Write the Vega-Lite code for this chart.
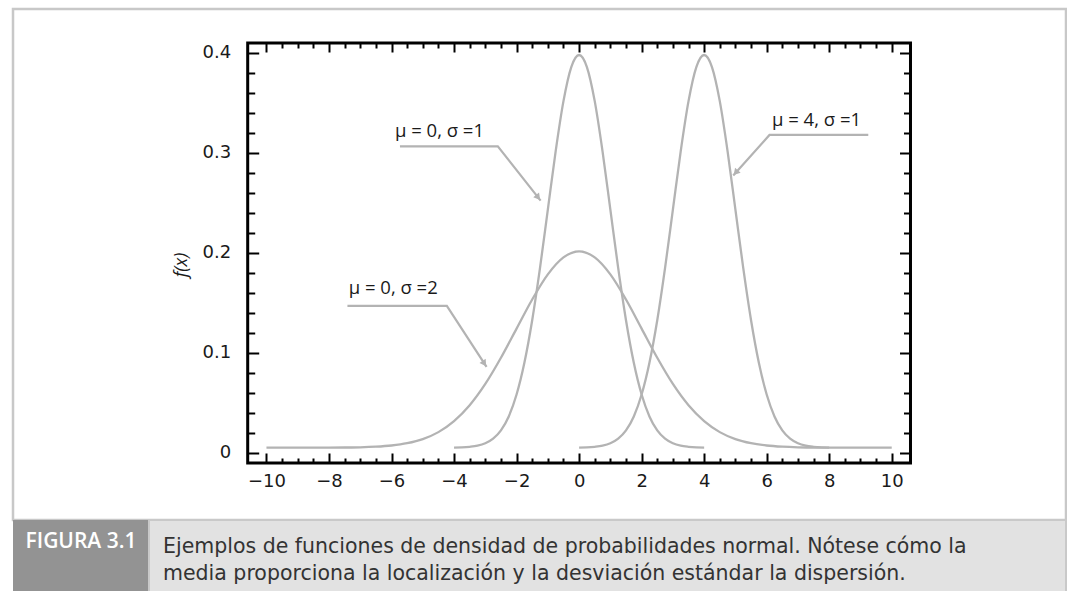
{
  "$schema": "https://vega.github.io/schema/vega-lite/v6.json",
  "background": "white",
  "padding": {"left": 11, "top": 7, "right": 0, "bottom": 0},
  "bounds": "flush",
  "spacing": 0,
  "config": {"font": "Open Sans", "view": {"stroke": null}},
  "datasets": {
    "curves": [
      {"curve": "m0s1", "x": -4, "y": 0.0051}, {"curve": "m0s1", "x": -3.75, "y": 0.0053}, {"curve": "m0s1", "x": -3.5, "y": 0.0059}, {"curve": "m0s1", "x": -3.25, "y": 0.007}, {"curve": "m0s1", "x": -3, "y": 0.0094}, {"curve": "m0s1", "x": -2.75, "y": 0.014}, {"curve": "m0s1", "x": -2.5, "y": 0.0223}, {"curve": "m0s1", "x": -2.25, "y": 0.0363}, {"curve": "m0s1", "x": -2, "y": 0.0582}, {"curve": "m0s1", "x": -1.75, "y": 0.09}, {"curve": "m0s1", "x": -1.5, "y": 0.1326}, {"curve": "m0s1", "x": -1.25, "y": 0.1849}, {"curve": "m0s1", "x": -1, "y": 0.2433}, {"curve": "m0s1", "x": -0.75, "y": 0.3016}, {"curve": "m0s1", "x": -0.5, "y": 0.3518}, {"curve": "m0s1", "x": -0.25, "y": 0.3859}, {"curve": "m0s1", "x": 0, "y": 0.398}, {"curve": "m0s1", "x": 0.25, "y": 0.3859}, {"curve": "m0s1", "x": 0.5, "y": 0.3518}, {"curve": "m0s1", "x": 0.75, "y": 0.3016}, {"curve": "m0s1", "x": 1, "y": 0.2433}, {"curve": "m0s1", "x": 1.25, "y": 0.1849}, {"curve": "m0s1", "x": 1.5, "y": 0.1326}, {"curve": "m0s1", "x": 1.75, "y": 0.09}, {"curve": "m0s1", "x": 2, "y": 0.0582}, {"curve": "m0s1", "x": 2.25, "y": 0.0363}, {"curve": "m0s1", "x": 2.5, "y": 0.0223}, {"curve": "m0s1", "x": 2.75, "y": 0.014}, {"curve": "m0s1", "x": 3, "y": 0.0094}, {"curve": "m0s1", "x": 3.25, "y": 0.007}, {"curve": "m0s1", "x": 3.5, "y": 0.0059}, {"curve": "m0s1", "x": 3.75, "y": 0.0053}, {"curve": "m0s1", "x": 4, "y": 0.0051},
      {"curve": "m4s1", "x": 0, "y": 0.0051}, {"curve": "m4s1", "x": 0.25, "y": 0.0053}, {"curve": "m4s1", "x": 0.5, "y": 0.0059}, {"curve": "m4s1", "x": 0.75, "y": 0.007}, {"curve": "m4s1", "x": 1, "y": 0.0094}, {"curve": "m4s1", "x": 1.25, "y": 0.014}, {"curve": "m4s1", "x": 1.5, "y": 0.0223}, {"curve": "m4s1", "x": 1.75, "y": 0.0363}, {"curve": "m4s1", "x": 2, "y": 0.0582}, {"curve": "m4s1", "x": 2.25, "y": 0.09}, {"curve": "m4s1", "x": 2.5, "y": 0.1326}, {"curve": "m4s1", "x": 2.75, "y": 0.1849}, {"curve": "m4s1", "x": 3, "y": 0.2433}, {"curve": "m4s1", "x": 3.25, "y": 0.3016}, {"curve": "m4s1", "x": 3.5, "y": 0.3518}, {"curve": "m4s1", "x": 3.75, "y": 0.3859}, {"curve": "m4s1", "x": 4, "y": 0.398}, {"curve": "m4s1", "x": 4.25, "y": 0.3859}, {"curve": "m4s1", "x": 4.5, "y": 0.3518}, {"curve": "m4s1", "x": 4.75, "y": 0.3016}, {"curve": "m4s1", "x": 5, "y": 0.2433}, {"curve": "m4s1", "x": 5.25, "y": 0.1849}, {"curve": "m4s1", "x": 5.5, "y": 0.1326}, {"curve": "m4s1", "x": 5.75, "y": 0.09}, {"curve": "m4s1", "x": 6, "y": 0.0582}, {"curve": "m4s1", "x": 6.25, "y": 0.0363}, {"curve": "m4s1", "x": 6.5, "y": 0.0223}, {"curve": "m4s1", "x": 6.75, "y": 0.014}, {"curve": "m4s1", "x": 7, "y": 0.0094}, {"curve": "m4s1", "x": 7.25, "y": 0.007}, {"curve": "m4s1", "x": 7.5, "y": 0.0059}, {"curve": "m4s1", "x": 7.75, "y": 0.0053}, {"curve": "m4s1", "x": 8, "y": 0.0051},
      {"curve": "m0s2", "x": -10, "y": 0.005}, {"curve": "m0s2", "x": -9, "y": 0.005}, {"curve": "m0s2", "x": -8, "y": 0.0051}, {"curve": "m0s2", "x": -7.5, "y": 0.0052}, {"curve": "m0s2", "x": -7, "y": 0.0054}, {"curve": "m0s2", "x": -6.5, "y": 0.006}, {"curve": "m0s2", "x": -6, "y": 0.0072}, {"curve": "m0s2", "x": -5.5, "y": 0.0095}, {"curve": "m0s2", "x": -5, "y": 0.0136}, {"curve": "m0s2", "x": -4.5, "y": 0.0206}, {"curve": "m0s2", "x": -4, "y": 0.0316}, {"curve": "m0s2", "x": -3.5, "y": 0.0475}, {"curve": "m0s2", "x": -3, "y": 0.0688}, {"curve": "m0s2", "x": -2.5, "y": 0.095}, {"curve": "m0s2", "x": -2, "y": 0.1242}, {"curve": "m0s2", "x": -1.5, "y": 0.1533}, {"curve": "m0s2", "x": -1, "y": 0.1784}, {"curve": "m0s2", "x": -0.5, "y": 0.1954}, {"curve": "m0s2", "x": 0, "y": 0.2015}, {"curve": "m0s2", "x": 0.5, "y": 0.1954}, {"curve": "m0s2", "x": 1, "y": 0.1784}, {"curve": "m0s2", "x": 1.5, "y": 0.1533}, {"curve": "m0s2", "x": 2, "y": 0.1242}, {"curve": "m0s2", "x": 2.5, "y": 0.095}, {"curve": "m0s2", "x": 3, "y": 0.0688}, {"curve": "m0s2", "x": 3.5, "y": 0.0475}, {"curve": "m0s2", "x": 4, "y": 0.0316}, {"curve": "m0s2", "x": 4.5, "y": 0.0206}, {"curve": "m0s2", "x": 5, "y": 0.0136}, {"curve": "m0s2", "x": 5.5, "y": 0.0095}, {"curve": "m0s2", "x": 6, "y": 0.0072}, {"curve": "m0s2", "x": 6.5, "y": 0.006}, {"curve": "m0s2", "x": 7, "y": 0.0054}, {"curve": "m0s2", "x": 7.5, "y": 0.0052}, {"curve": "m0s2", "x": 8, "y": 0.0051}, {"curve": "m0s2", "x": 9, "y": 0.005}, {"curve": "m0s2", "x": 10, "y": 0.005}
    ],
    "leaders": [
      {"ann": "a", "step": 1, "x": -5.73, "y": 0.3066}, {"ann": "a", "step": 2, "x": -2.6, "y": 0.3066}, {"ann": "a", "step": 3, "x": -1.23, "y": 0.2522},
      {"ann": "b", "step": 1, "x": 9.25, "y": 0.318}, {"ann": "b", "step": 2, "x": 6.09, "y": 0.318}, {"ann": "b", "step": 3, "x": 4.93, "y": 0.2773},
      {"ann": "c", "step": 1, "x": -7.41, "y": 0.147}, {"ann": "c", "step": 2, "x": -4.23, "y": 0.147}, {"ann": "c", "step": 3, "x": -2.96, "y": 0.0859}
    ],
    "arrows": [
      {"ann": "a", "x": -1.31, "y": 0.2555},
      {"ann": "b", "x": 5.01, "y": 0.2803},
      {"ann": "c", "x": -3.03, "y": 0.0892}
    ],
    "labels": [
      {"ann": "a", "label": "μ = 0, σ =1", "x": -5.89, "y": 0.3223},
      {"ann": "b", "label": "μ = 4, σ =1", "x": 6.17, "y": 0.3334},
      {"ann": "c", "label": "μ = 0, σ =2", "x": -7.37, "y": 0.1653}
    ],
    "figura": [{"line": 1, "text": "FIGURA 3.1"}],
    "caption": [
      {"line": 1, "text": "Ejemplos de funciones de densidad de probabilidades normal. Nótese cómo la"},
      {"line": 2, "text": "media proporciona la localización y la desviación estándar la dispersión."}
    ]
  },
  "vconcat": [
    {
      "width": 1053,
      "height": 511,
      "view": {"fill": "white", "stroke": "#c8c8c8", "strokeWidth": 2.5},
      "resolve": {"axis": {"x": "independent", "y": "independent"}},
      "layer": [
        {
          "data": {"values": [{}]},
          "mark": {"type": "rect", "fill": null, "stroke": "black", "strokeWidth": 3},
          "encoding": {
            "x": {"datum": -10.6, "type": "quantitative", "scale": {"domain": [-18.107, 15.574], "nice": false, "zero": false}, "axis": null},
            "x2": {"datum": 10.6},
            "y": {"datum": -0.0103, "type": "quantitative", "scale": {"domain": [-0.06734, 0.44402], "nice": false, "zero": false}, "axis": null},
            "y2": {"datum": 0.41}
          }
        },
        {
          "data": {"name": "curves"},
          "mark": {"type": "line", "interpolate": "monotone", "color": "#b3b3b3", "strokeWidth": 2.3},
          "encoding": {
            "x": {"field": "x", "type": "quantitative", "scale": {"domain": [-18.107, 15.574], "nice": false, "zero": false},
              "axis": {"orient": "bottom", "offset": -57, "title": null, "domain": false, "grid": false,
                "values": [-10,-9.5,-9,-8.5,-8,-7.5,-7,-6.5,-6,-5.5,-5,-4.5,-4,-3.5,-3,-2.5,-2,-1.5,-1,-0.5,0,0.5,1,1.5,2,2.5,3,3.5,4,4.5,5,5.5,6,6.5,7,7.5,8,8.5,9,9.5,10],
                "tickSize": {"condition": {"test": "datum.value % 2 === 0", "value": -10}, "value": -5},
                "tickWidth": 2, "tickColor": "black",
                "labelExpr": "datum.value % 2 === 0 ? format(datum.value, 'd') : ''",
                "labelPadding": 19, "labelFontSize": 18, "labelFont": "DejaVu Sans", "labelColor": "#1a1a1a",
                "labelOverlap": false, "labelFlush": false}},
            "y": {"field": "y", "type": "quantitative", "scale": {"domain": [-0.06734, 0.44402], "nice": false, "zero": false},
              "axis": {"orient": "left", "offset": -234.7, "title": "f(x)", "titleFontStyle": "italic", "titleFontWeight": "normal", "titleFontSize": 18, "titleFont": "Open Sans", "titleColor": "#1a1a1a", "titlePadding": 12,
                "domain": false, "grid": false,
                "values": [0,0.02,0.04,0.06,0.08,0.1,0.12,0.14,0.16,0.18,0.2,0.22,0.24,0.26,0.28,0.3,0.32,0.34,0.36,0.38,0.4],
                "tickSize": {"condition": {"test": "abs(datum.value * 10 - round(datum.value * 10)) < 0.001", "value": -11}, "value": -7},
                "tickWidth": 2, "tickColor": "black",
                "labelExpr": "abs(datum.value * 10 - round(datum.value * 10)) < 0.001 ? format(datum.value, '.1~f') : ''",
                "labelPadding": 28, "labelFontSize": 18, "labelFont": "DejaVu Sans", "labelColor": "#1a1a1a",
                "labelOverlap": false, "labelFlush": false}},
            "detail": {"field": "curve", "type": "nominal"}
          }
        },
        {
          "data": {"name": "leaders"},
          "mark": {"type": "line", "color": "#b3b3b3", "strokeWidth": 2.2},
          "encoding": {
            "x": {"field": "x", "type": "quantitative", "scale": {"domain": [-18.107, 15.574], "nice": false, "zero": false},
              "axis": {"orient": "top", "offset": -34, "title": null, "domain": false, "grid": false, "labels": false,
                "values": [-10,-9.5,-9,-8.5,-8,-7.5,-7,-6.5,-6,-5.5,-5,-4.5,-4,-3.5,-3,-2.5,-2,-1.5,-1,-0.5,0,0.5,1,1.5,2,2.5,3,3.5,4,4.5,5,5.5,6,6.5,7,7.5,8,8.5,9,9.5,10],
                "tickSize": {"condition": {"test": "datum.value % 2 === 0", "value": -9}, "value": -5},
                "tickWidth": 2, "tickColor": "black"}},
            "y": {"field": "y", "type": "quantitative", "scale": {"domain": [-0.06734, 0.44402], "nice": false, "zero": false},
              "axis": {"orient": "right", "offset": -155.5, "title": null, "domain": false, "grid": false, "labels": false,
                "values": [0,0.02,0.04,0.06,0.08,0.1,0.12,0.14,0.16,0.18,0.2,0.22,0.24,0.26,0.28,0.3,0.32,0.34,0.36,0.38,0.4],
                "tickSize": {"condition": {"test": "abs(datum.value * 10 - round(datum.value * 10)) < 0.001", "value": -11}, "value": -7},
                "tickWidth": 2, "tickColor": "black"}},
            "detail": {"field": "ann", "type": "nominal"},
            "order": {"field": "step", "type": "quantitative"}
          }
        },
        {
          "data": {"name": "arrows"},
          "transform": [{"filter": "datum.ann === 'a'"}],
          "mark": {"type": "point", "shape": "triangle-up", "filled": true, "size": 55, "color": "#b3b3b3", "opacity": 1, "angle": 141.5},
          "encoding": {
            "x": {"field": "x", "type": "quantitative", "scale": {"domain": [-18.107, 15.574], "nice": false, "zero": false}, "axis": null},
            "y": {"field": "y", "type": "quantitative", "scale": {"domain": [-0.06734, 0.44402], "nice": false, "zero": false}, "axis": null}
          }
        },
        {
          "data": {"name": "arrows"},
          "transform": [{"filter": "datum.ann === 'b'"}],
          "mark": {"type": "point", "shape": "triangle-up", "filled": true, "size": 55, "color": "#b3b3b3", "opacity": 1, "angle": 221.5},
          "encoding": {
            "x": {"field": "x", "type": "quantitative", "scale": {"domain": [-18.107, 15.574], "nice": false, "zero": false}, "axis": null},
            "y": {"field": "y", "type": "quantitative", "scale": {"domain": [-0.06734, 0.44402], "nice": false, "zero": false}, "axis": null}
          }
        },
        {
          "data": {"name": "arrows"},
          "transform": [{"filter": "datum.ann === 'c'"}],
          "mark": {"type": "point", "shape": "triangle-up", "filled": true, "size": 55, "color": "#b3b3b3", "opacity": 1, "angle": 146.7},
          "encoding": {
            "x": {"field": "x", "type": "quantitative", "scale": {"domain": [-18.107, 15.574], "nice": false, "zero": false}, "axis": null},
            "y": {"field": "y", "type": "quantitative", "scale": {"domain": [-0.06734, 0.44402], "nice": false, "zero": false}, "axis": null}
          }
        },
        {
          "data": {"name": "labels"},
          "mark": {"type": "text", "align": "left", "baseline": "middle", "fontSize": 18.5, "font": "Open Sans", "color": "#1a1a1a"},
          "encoding": {
            "x": {"field": "x", "type": "quantitative", "scale": {"domain": [-18.107, 15.574], "nice": false, "zero": false}, "axis": null},
            "y": {"field": "y", "type": "quantitative", "scale": {"domain": [-0.06734, 0.44402], "nice": false, "zero": false}, "axis": null},
            "text": {"field": "label", "type": "nominal"}
          }
        }
      ]
    },
    {
      "bounds": "flush",
      "spacing": 0,
      "hconcat": [
        {
          "width": 136, "height": 72,
          "view": {"fill": "#939393", "stroke": null},
          "data": {"name": "figura"},
          "mark": {"type": "text", "align": "center", "baseline": "middle", "color": "white", "fontSize": 21, "fontWeight": 600, "font": "Open Sans"},
          "encoding": {
            "y": {"field": "line", "type": "ordinal", "scale": {"type": "point", "padding": 0, "align": 0.31}, "axis": null},
            "text": {"field": "text", "type": "nominal"}
          }
        },
        {
          "width": 917, "height": 72,
          "view": {"fill": "#e2e2e2", "stroke": "#c9c9c9", "strokeWidth": 2},
          "data": {"name": "caption"},
          "mark": {"type": "text", "align": "left", "baseline": "middle", "dx": 14, "color": "#333", "fontSize": 20.5, "font": "DejaVu Sans"},
          "encoding": {
            "x": {"datum": 0, "type": "quantitative", "scale": {"domain": [0, 1]}, "axis": null},
            "y": {"field": "line", "type": "ordinal", "scale": {"type": "point", "padding": 0.833, "align": 0.589}, "axis": null},
            "text": {"field": "text", "type": "nominal"}
          }
        }
      ]
    }
  ]
}
